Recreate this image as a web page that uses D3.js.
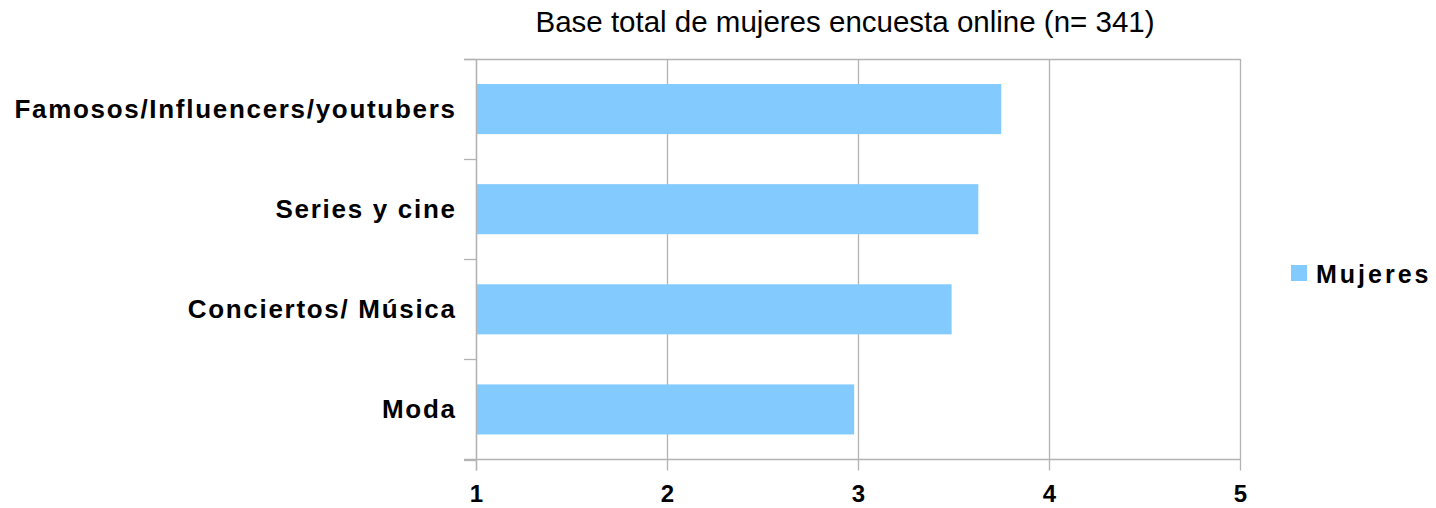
<!DOCTYPE html>
<html>
<head>
<meta charset="utf-8">
<script src="https://cdn.jsdelivr.net/npm/d3@7"></script>
<style>
  body { margin: 0; background: #fff; }
  svg { display: block; font-family: "Liberation Sans", Arial, sans-serif; }
</style>
</head>
<body>
<svg id="chart" width="1436" height="508"></svg>
<script>
const title = "Base total de mujeres encuesta online (n= 341)";
const categories = ["Famosos/Influencers/youtubers", "Series y cine", "Conciertos/ Música", "Moda"];
const values = [3.75, 3.63, 3.49, 2.98];
const seriesName = "Mujeres";
const xTicks = [1, 2, 3, 4, 5];

(function () {
const svg = d3.select("#chart");
const pL = 476, pR = 1240, pT = 59, pB = 459.5;

const x = d3.scaleLinear().domain([1, 5]).range([pL, pR]);
const y = d3.scaleBand().domain(categories).range([pT, pB]).paddingInner(0.5).paddingOuter(0.25);

// title
svg.append("text")
  .attr("x", 845).attr("y", 32)
  .attr("text-anchor", "middle")
  .attr("font-size", 29.5)
  .attr("fill", "#000")
  .text(title);

// grid
const grid = svg.append("g");
grid.selectAll("line.v").data(xTicks).enter().append("line")
  .attr("x1", d => Math.round(x(d)) + 0.5).attr("x2", d => Math.round(x(d)) + 0.5)
  .attr("y1", pT).attr("y2", pB + 11)
  .attr("stroke", "#b3b3b3").attr("stroke-width", 1.3);
grid.append("line")
  .attr("x1", pL - 12).attr("x2", pR + 0.5)
  .attr("y1", pT + 0.5).attr("y2", pT + 0.5)
  .attr("stroke", "#b3b3b3").attr("stroke-width", 1.3);

// left ticks at band boundaries
const bounds = d3.range(categories.length + 1).map(i => pT + i * (pB - pT) / categories.length);
grid.selectAll("line.t").data(bounds).enter().append("line")
  .attr("x1", pL - 12).attr("x2", pL)
  .attr("y1", d => Math.round(d) + 0.5).attr("y2", d => Math.round(d) + 0.5)
  .attr("stroke", "#b3b3b3").attr("stroke-width", 1.3);

// bars
svg.append("g").selectAll("rect").data(categories).enter().append("rect")
  .attr("x", x(1))
  .attr("y", d => y(d))
  .attr("width", (d, i) => x(values[i]) - x(1))
  .attr("height", y.bandwidth())
  .attr("fill", "#83caff");

// axes lines
svg.append("line")
  .attr("x1", pL + 0.5).attr("x2", pL + 0.5)
  .attr("y1", pT).attr("y2", pB + 11)
  .attr("stroke", "#b3b3b3").attr("stroke-width", 1.3);
svg.append("line")
  .attr("x1", pL - 12).attr("x2", pR + 0.5)
  .attr("y1", pB).attr("y2", pB)
  .attr("stroke", "#b3b3b3").attr("stroke-width", 1.3);

// category labels
svg.append("g").selectAll("text").data(categories).enter().append("text")
  .attr("x", pL - 21 + 1.7)
  .attr("y", d => y(d) + y.bandwidth() / 2 + 8.5)
  .attr("text-anchor", "end")
  .attr("font-size", 26)
  .attr("font-weight", "bold")
  .attr("letter-spacing", 1.7)
  .attr("fill", "#000")
  .text(d => d);

// x tick labels
const xAxis = d3.axisBottom(x).tickValues(xTicks).tickFormat(d3.format("d")).tickSize(0).tickPadding(0);
const gx = svg.append("g").attr("transform", `translate(0,${pB})`).call(xAxis);
gx.select(".domain").remove();
gx.selectAll("text")
  .attr("y", 42).attr("dy", null)
  .attr("font-size", 24).attr("font-weight", "bold")
  .attr("font-family", "Liberation Sans, Arial, sans-serif")
  .attr("fill", "#000");

// legend
const lg = svg.append("g").attr("transform", "translate(1291,265)");
lg.append("rect").attr("width", 16).attr("height", 16).attr("fill", "#83caff");
lg.append("text").attr("x", 25).attr("y", 17.5)
  .attr("font-size", 25).attr("font-weight", "bold").attr("letter-spacing", 3)
  .attr("fill", "#000").text(seriesName);
})();
</script>
</body>
</html>
